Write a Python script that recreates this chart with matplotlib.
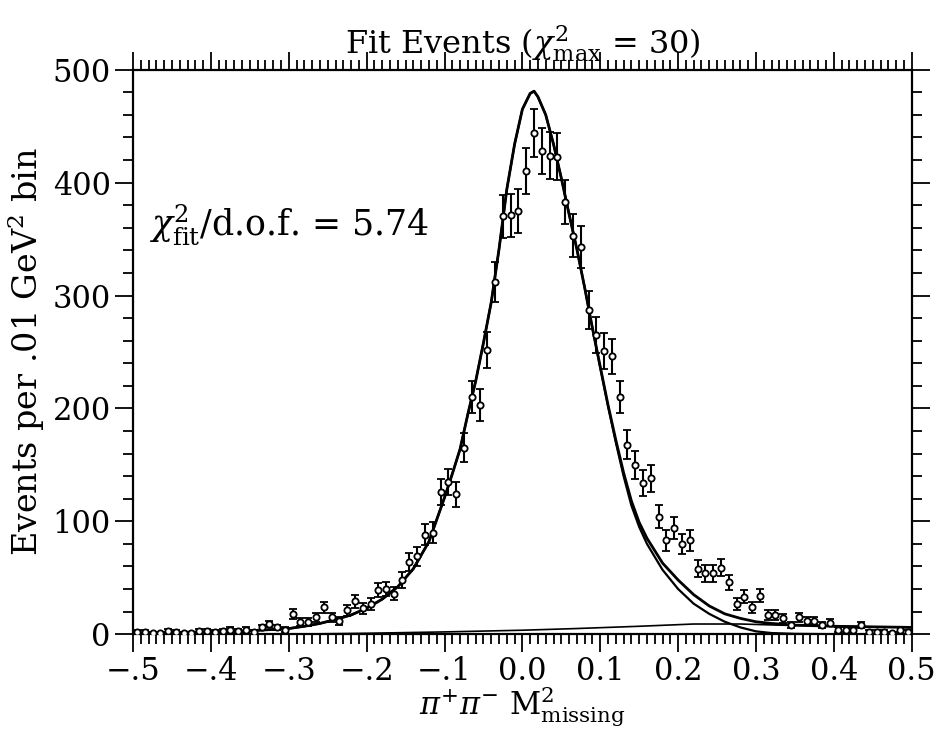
import numpy as np
import matplotlib
matplotlib.use("Agg")
import matplotlib.pyplot as plt
from matplotlib.ticker import MultipleLocator, FixedLocator, FixedFormatter

plt.rcParams['font.family'] = ['DejaVu Serif']
plt.rcParams['mathtext.fontset'] = 'dejavuserif'

# ---- data: bin centres (0.01 GeV^2 bins) and counts ----
bin_centers = [round(-0.495 + 0.01 * i, 3) for i in range(100)]
counts = [2, 2, 1, 1, 3, 2, 1, 1, 3, 3,
          2, 3, 4, 3, 4, 2, 6, 9, 6, 4,
          18, 11, 11, 15, 24, 15, 12, 21, 29, 23,
          27, 39, 40, 36, 48, 64, 69, 88, 90, 126,
          135, 124, 165, 210, 203, 252, 312, 370, 371, 375,
          410, 444, 428, 424, 423, 383, 353, 343, 287, 265,
          251, 246, 210, 168, 150, 134, 138, 104, 83, 94,
          80, 83, 58, 54, 54, 59, 46, 27, 33, 24,
          34, 17, 17, 14, 8, 15, 12, 12, 8, 10,
          4, 4, 4, 8, 2, 2, 2, 1, 4, 2]
errors = [np.sqrt(c) for c in counts]

# ---- fitted curves ----
curve_x = [-0.5, -0.45, -0.4, -0.35, -0.3, -0.28, -0.26, -0.24, -0.22, -0.2,
           -0.18, -0.16, -0.14, -0.12, -0.1, -0.09, -0.08, -0.07, -0.06, -0.05,
           -0.04, -0.03, -0.02, -0.01, 0.0, 0.01, 0.015, 0.02, 0.03, 0.04,
           0.05, 0.06, 0.07, 0.08, 0.09, 0.1, 0.11, 0.12, 0.13, 0.14,
           0.15, 0.16, 0.18, 0.2, 0.22, 0.24, 0.26, 0.28, 0.3, 0.32,
           0.35, 0.4, 0.45, 0.5]
fit_total = [1, 1.5, 2, 3, 5, 7, 9.5, 13, 17, 23,
             31, 42, 58, 82, 121, 142, 164, 195, 224, 258,
             294, 341, 394, 434, 465, 479, 481, 476, 460, 434,
             404, 372, 341, 307, 271, 237, 203, 172, 143, 118,
             99, 85, 63, 48, 35, 25, 18, 14, 11, 9.5,
             8, 7, 6.5, 6]
fit_signal = [1, 1.5, 2, 3, 5, 7, 9.5, 13, 17, 23,
              31, 42, 58, 82, 121, 142, 164, 195, 224, 258,
              294, 341, 394, 434, 465, 479, 481, 476, 460, 434,
              404, 372, 341, 307, 271, 236, 202, 170, 140, 114,
              95, 80, 57, 40, 27, 18, 11, 6, 2.5, 1,
              0.3, 0, 0, 0]
bkg_x = [-0.5, -0.3, -0.2, -0.1, 0.0, 0.07, 0.15, 0.22, 0.28, 0.33, 0.4, 0.5]
bkg_y = [0, 0, 0.8, 2, 3.5, 5, 7, 9, 9, 8, 7, 6]

fig = plt.figure(figsize=(9.37, 7.34), dpi=100)
ax = fig.add_axes([0.142, 0.136, 0.831, 0.769])

ax.plot(curve_x, fit_total, color='black', lw=2.0, solid_joinstyle='round')
ax.plot(curve_x, fit_signal, color='black', lw=1.6, solid_joinstyle='round')
ax.plot(bkg_x, bkg_y, color='black', lw=1.2)

ax.errorbar(bin_centers, counts, yerr=errors, fmt='o', ms=4.5, mfc='white',
            mec='black', mew=1.3, ecolor='black', elinewidth=1.5,
            capsize=3, capthick=1.5, zorder=3)

ax.set_xlim(-0.5, 0.5)
ax.set_ylim(0, 500)

xt = [-0.5, -0.4, -0.3, -0.2, -0.1, 0.0, 0.1, 0.2, 0.3, 0.4, 0.5]
xl = ['\u2212.5', '\u2212.4', '\u2212.3', '\u2212.2', '\u2212.1', '0.0', '0.1', '0.2', '0.3', '0.4', '0.5']
ax.xaxis.set_major_locator(FixedLocator(xt))
ax.xaxis.set_major_formatter(FixedFormatter(xl))
ax.xaxis.set_minor_locator(MultipleLocator(0.01))
ax.yaxis.set_major_locator(MultipleLocator(100))
ax.yaxis.set_minor_locator(MultipleLocator(20))

ax.tick_params(axis='both', which='both', direction='out', top=True, right=True,
               labelsize=22, width=1.3, color='black')
ax.tick_params(axis='both', which='major', length=13)
ax.tick_params(axis='x', which='minor', length=7)
ax.tick_params(axis='y', which='minor', length=7)
ax.tick_params(axis='x', which='major', pad=3)
ax.tick_params(axis='y', which='major', pad=3)
for s in ax.spines.values():
    s.set_linewidth(1.6)

ax.set_title(r'Fit Events ($\chi^2_{\rm max}$ = 30)', fontsize=23, pad=12)
ax.set_xlabel(r'$\pi^{+}\pi^{-}$ M$^2_{\rm missing}$', fontsize=22, labelpad=-2)
ax.set_ylabel(r'Events per .01 GeV$^2$ bin', fontsize=24, labelpad=4)

ax.text(0.02, 0.725, r'$\chi^2_{\rm fit}$/d.o.f. = 5.74', transform=ax.transAxes,
        fontsize=25, va='center', ha='left')

fig.savefig('out.png', dpi=100, facecolor='white')
